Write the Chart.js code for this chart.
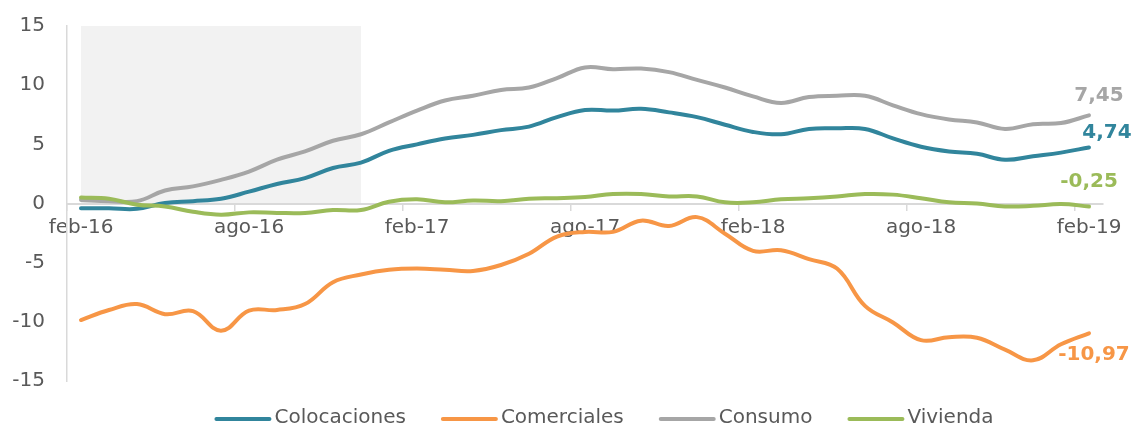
<!DOCTYPE html>
<html><head><meta charset="utf-8">
<script src="https://cdn.jsdelivr.net/npm/chart.js@4.4.1/dist/chart.umd.min.js"></script>
<style>html,body{margin:0;padding:0;background:#fff}#wrap{width:1133px;height:426px;position:relative}</style>
</head><body><div id="wrap"><canvas id="c"></canvas></div>
<script>
const categories = ['feb-16','mar-16','abr-16','may-16','jun-16','jul-16','ago-16','sep-16','oct-16','nov-16','dic-16','ene-17',
  'feb-17','mar-17','abr-17','may-17','jun-17','jul-17','ago-17','sep-17','oct-17','nov-17','dic-17','ene-18',
  'feb-18','mar-18','abr-18','may-18','jun-18','jul-18','ago-18','sep-18','oct-18','nov-18','dic-18','ene-19','feb-19'];
const tickLabels = ['feb-16','ago-16','feb-17','ago-17','feb-18','ago-18','feb-19'];
const shadeRange = ['feb-16','dic-16'];
const shadeValues = [0, 15];
const yTicks = [-15,-10,-5,0,5,10,15];

const colocaciones = [-0.4,-0.4,-0.45,0.05,0.2,0.4,1.0,1.65,2.15,3.0,3.45,4.45,5.0,5.5,5.8,6.2,6.5,7.3,7.9,7.85,8.0,7.7,7.3,6.65,6.05,5.85,6.3,6.35,6.3,5.5,4.8,4.4,4.2,3.7,4.0,4.3,4.74];
const comerciales = [-9.85,-9.0,-8.5,-9.35,-9.1,-10.75,-9.05,-9.0,-8.5,-6.65,-6.0,-5.6,-5.5,-5.6,-5.7,-5.2,-4.25,-2.8,-2.4,-2.4,-1.45,-1.9,-1.15,-2.55,-4.0,-3.95,-4.7,-5.5,-8.65,-10.05,-11.55,-11.3,-11.35,-12.35,-13.25,-11.9,-10.97];
const consumo = [0.3,0.2,0.2,1.1,1.45,2.0,2.7,3.7,4.4,5.3,5.85,6.85,7.85,8.7,9.1,9.6,9.8,10.6,11.5,11.35,11.4,11.1,10.45,9.8,9.05,8.5,9.0,9.1,9.1,8.3,7.55,7.1,6.85,6.3,6.7,6.8,7.45];
const vivienda = [0.5,0.4,-0.1,-0.25,-0.7,-0.95,-0.75,-0.8,-0.8,-0.55,-0.55,0.15,0.35,0.1,0.25,0.2,0.4,0.45,0.55,0.8,0.8,0.6,0.6,0.1,0.1,0.35,0.45,0.6,0.8,0.75,0.45,0.1,0.0,-0.25,-0.2,-0.05,-0.25];

const seriesNames = ['Colocaciones','Comerciales','Consumo','Vivienda'];
const seriesData = [colocaciones, comerciales, consumo, vivienda];
const seriesColors = ['#31859C','#F79646','#A6A6A6','#9BBB59'];

const FONT = '"DejaVu Sans", Verdana, sans-serif';
const TEXT = '#595959';

const shadePlugin = {
  id: 'shade',
  beforeDraw(chart) {
    const {ctx, scales: {x, y}} = chart;
    const x1 = x.getPixelForValue(categories.indexOf(shadeRange[0]));
    const x2 = x.getPixelForValue(categories.indexOf(shadeRange[1]));
    const y1 = y.getPixelForValue(shadeValues[1]);
    const y2 = y.getPixelForValue(shadeValues[0]);
    ctx.save();
    ctx.fillStyle = '#f2f2f2';
    ctx.fillRect(x1, y1, x2 - x1, y2 - y1);
    ctx.restore();
  }
};

const endLabelPlugin = {
  id: 'endLabels',
  afterDatasetsDraw(chart, args, opts) {
    const {ctx} = chart;
    ctx.save();
    ctx.font = 'bold 20px ' + FONT;
    ctx.textAlign = 'center';
    ctx.textBaseline = 'middle';
    chart.data.datasets.forEach((ds, i) => {
      const meta = chart.getDatasetMeta(i);
      const pt = meta.data[meta.data.length - 1];
      const v = ds.data[ds.data.length - 1];
      const off = opts.offsets[i];
      ctx.fillStyle = ds.borderColor;
      ctx.fillText(v.toFixed(2).replace('.', ','), pt.x + off[0], pt.y + off[1]);
    });
    ctx.restore();
  }
};

const legendPlugin = {
  id: 'customLegend',
  afterDraw(chart, args, opts) {
    const {ctx} = chart;
    ctx.save();
    ctx.font = '20px ' + FONT;
    const items = chart.data.datasets.map(ds => ({label: ds.label, color: ds.borderColor, w: opts.lineW + opts.gap + ctx.measureText(ds.label).width}));
    const total = items.reduce((s, it) => s + it.w, 0) + opts.spacing * (items.length - 1);
    let x = opts.centerX - total / 2;
    const y = opts.y;
    ctx.textBaseline = 'middle';
    ctx.textAlign = 'left';
    items.forEach(it => {
      ctx.strokeStyle = it.color;
      ctx.lineWidth = 4;
      ctx.lineCap = 'round';
      ctx.beginPath();
      ctx.moveTo(x + 2, y + 1);
      ctx.lineTo(x + opts.lineW - 2, y + 1);
      ctx.stroke();
      ctx.fillStyle = TEXT;
      ctx.fillText(it.label, x + opts.lineW + opts.gap, y);
      x += it.w + opts.spacing;
    });
    ctx.restore();
  }
};

const orders = [3, 2, 1, 0];
new Chart(document.getElementById('c'), {
  type: 'line',
  data: {
    labels: categories,
    datasets: seriesNames.map((name, i) => ({
      label: name,
      data: seriesData[i],
      borderColor: seriesColors[i],
      backgroundColor: seriesColors[i],
      borderWidth: 4,
      pointRadius: 0,
      tension: 0.4,
      borderCapStyle: 'round',
      borderJoinStyle: 'round',
      fill: false,
      order: orders[i]
    }))
  },
  options: {
    responsive: true,
    maintainAspectRatio: false,
    animation: false,
    devicePixelRatio: 1,
    layout: {padding: {left: 0, right: 30, top: 26, bottom: 45}},
    plugins: {
      legend: {display: false},
      tooltip: {enabled: false},
      endLabels: {offsets: [[18, -15], [5, 21], [10, -20], [0, -25]]},
      customLegend: {centerX: 604, y: 418, lineW: 57, gap: 3, spacing: 35}
    },
    scales: {
      x: {
        type: 'category',
        position: {y: 0},
        offset: true,
        grid: {
          display: true,
          offset: true,
          drawOnChartArea: false,
          drawTicks: true,
          tickLength: 6,
          lineWidth: 1.5,
          color: (c) => (c.index % 6 === 0 ? '#d9d9d9' : 'rgba(0,0,0,0)')
        },
        border: {display: true, color: '#d9d9d9', width: 2},
        ticks: {
          autoSkip: false,
          maxRotation: 0,
          padding: 6,
          color: TEXT,
          font: {family: FONT, size: 20},
          callback: function(v, i) { const l = categories[i]; return tickLabels.includes(l) ? l : ''; }
        }
      },
      y: {
        min: -15, max: 15,
        afterFit: (s) => { s.width = 67; },
        afterBuildTicks: (s) => { s.ticks = yTicks.map(v => ({value: v})); },
        grid: {display: true, drawOnChartArea: false, drawTicks: true, tickLength: 22, color: 'rgba(0,0,0,0)'},
        border: {display: true, color: '#d9d9d9', width: 1.5},
        ticks: {
          padding: 0,
          color: TEXT,
          font: {family: FONT, size: 20}
        }
      }
    }
  },
  plugins: [shadePlugin, endLabelPlugin, legendPlugin]
});
</script>
</body></html>
